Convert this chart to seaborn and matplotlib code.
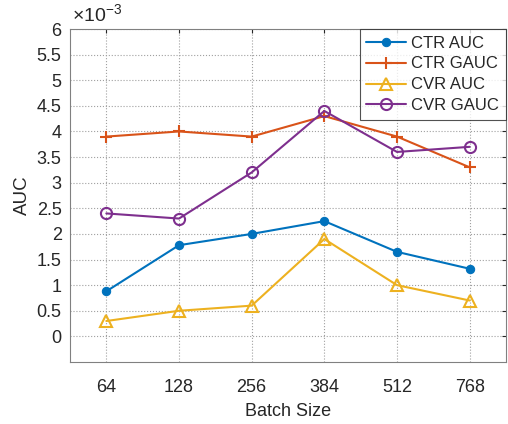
import numpy as np
import pandas as pd
import seaborn as sns
import matplotlib.pyplot as plt

# values (units of 1e-3)
batch_sizes = ['64', '128', '256', '384', '512', '768']
ctr_auc = [0.88, 1.78, 2.00, 2.25, 1.65, 1.32]
ctr_gauc = [3.90, 4.00, 3.90, 4.30, 3.90, 3.30]
cvr_auc = [0.30, 0.50, 0.60, 1.90, 1.00, 0.70]
cvr_gauc = [2.40, 2.30, 3.20, 4.40, 3.60, 3.70]
y_ticks = [0, 0.5, 1, 1.5, 2, 2.5, 3, 3.5, 4, 4.5, 5, 5.5, 6]

series = {
    'CTR AUC': ctr_auc,
    'CTR GAUC': ctr_gauc,
    'CVR AUC': cvr_auc,
    'CVR GAUC': cvr_gauc,
}
pos = np.arange(1, len(batch_sizes) + 1)
df = pd.DataFrame({name: np.array(vals) * 1e-3 for name, vals in series.items()})
df['pos'] = pos
long_df = df.melt(id_vars='pos', var_name='metric', value_name='auc')

sns.set_style('white')
plt.rcParams['font.family'] = ['Liberation Sans', 'DejaVu Sans']
plt.rcParams['mathtext.fontset'] = 'custom'
plt.rcParams['mathtext.rm'] = 'Liberation Sans'

colors = ['#0072BD', '#D95319', '#EDB120', '#7E2F8E']
styles = {
    'CTR AUC': dict(marker='o', ms=6, mfc='#0072BD'),
    'CTR GAUC': dict(marker='+', ms=9, mew=1.5),
    'CVR AUC': dict(marker='^', ms=9, mfc='none', mew=1.5),
    'CVR GAUC': dict(marker='o', ms=8, mfc='none', mew=1.5),
}

fig = plt.figure(figsize=(5.08, 4.24), dpi=100)
ax = fig.add_axes([70 / 508, 62 / 424, 436 / 508, 333 / 424])

for (name, st), c in zip(styles.items(), colors):
    sub = long_df[long_df['metric'] == name]
    sns.lineplot(data=sub, x='pos', y='auc', ax=ax, color=c, lw=1.5,
                 label=name, markeredgecolor=c, **st)

ax.set_xlim(0.5, 6.5)
ax.set_ylim(-0.5e-3, 6e-3)
ax.set_xticks(pos)
ax.set_xticklabels(batch_sizes)
ax.set_yticks(np.array(y_ticks) * 1e-3)
ax.set_yticklabels([f'{t:g}' for t in y_ticks])
ax.grid(True, ls=':', color='#a0a0a0', lw=0.8)
ax.tick_params(direction='in', length=3, labelsize=13, colors='#262626',
               top=True, right=True)
ax.tick_params(axis='x', pad=12)
ax.tick_params(axis='y', pad=6)
for sp in ax.spines.values():
    sp.set_color('#808080')
    sp.set_linewidth(0.8)

ax.set_xlabel('Batch Size', fontsize=13, color='#262626', labelpad=5)
ax.set_ylabel('AUC', fontsize=13.5, color='#262626', labelpad=4)
ax.text(0.005, 1.008, r'$\times10^{-3}$', transform=ax.transAxes,
        fontsize=14, color='#262626', va='bottom', ha='left')

leg = ax.legend(loc='upper right', fontsize=12, frameon=True, fancybox=False,
                borderaxespad=0, handlelength=2.4, borderpad=0.4,
                labelspacing=0.35, handletextpad=0.3)
leg.get_frame().set_edgecolor('#262626')
leg.get_frame().set_linewidth(0.8)

fig.savefig('out.png', dpi=100)
